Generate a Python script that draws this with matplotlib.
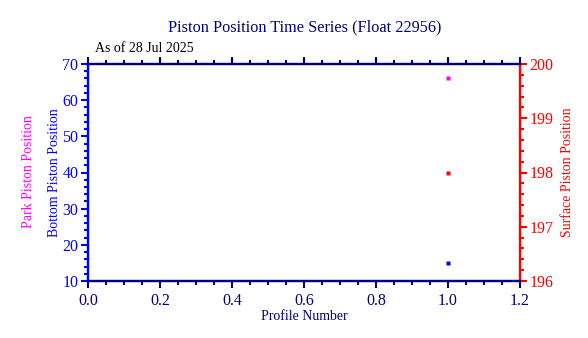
import matplotlib.pyplot as plt
from matplotlib.ticker import MultipleLocator

plt.rcParams['font.family'] = ['Liberation Serif', 'DejaVu Serif']

profile = [1.0]
park_pos = [66]
bottom_pos = [15]
surface_pos = [198]

navy = '#000080'
W, H = 588, 338
fig = plt.figure(figsize=(W / 100, H / 100), dpi=100)
ax = fig.add_axes([88 / W, 1 - 281 / H, (520 - 88) / W, (281 - 64) / H])
ax2 = ax.twinx()

ax.plot(profile, park_pos, 's', color='magenta', ms=2.5, mec='none')
ax.plot(profile, bottom_pos, 's', color='blue', ms=2.5, mec='none')
ax2.plot(profile, surface_pos, 's', color='red', ms=2.5, mec='none')

ax.set_xlim(0, 1.2)
ax.set_ylim(10, 70)
ax2.set_ylim(196, 200)

ax.xaxis.set_major_locator(MultipleLocator(0.2))
ax.xaxis.set_minor_locator(MultipleLocator(0.05))
ax.yaxis.set_major_locator(MultipleLocator(10))
ax.yaxis.set_minor_locator(MultipleLocator(2))
ax2.yaxis.set_major_locator(MultipleLocator(1))
ax2.yaxis.set_minor_locator(MultipleLocator(0.2))
ax.xaxis.set_major_formatter(lambda v, p: f'{v:.1f}')

for a in (ax, ax2):
    for s in a.spines.values():
        s.set_linewidth(1.6)
    a.spines['top'].set_color(navy)
    a.spines['bottom'].set_color(navy)
    a.spines['left'].set_color('blue')
    a.spines['right'].set_color('red')

ax.tick_params(axis='x', which='both', direction='out', top=True, colors=navy,
               labelsize=11.5, width=1.5)
ax.tick_params(axis='x', which='major', length=5)
ax.tick_params(axis='x', which='minor', length=3)
ax.tick_params(axis='y', which='both', direction='out', colors='blue',
               labelsize=11.5, width=1.5, pad=2)
ax.tick_params(axis='y', which='major', length=5)
ax.tick_params(axis='y', which='minor', length=3)
ax2.tick_params(axis='y', which='both', direction='out', colors='red',
                labelsize=11.5, width=1.5, pad=2)
ax2.tick_params(axis='y', which='major', length=5)
ax2.tick_params(axis='y', which='minor', length=3)

ax.set_xlabel('Profile Number', color=navy, fontsize=10, labelpad=1)
ax.set_ylabel('Bottom Piston Position', color='blue', fontsize=10, labelpad=1)
ax2.set_ylabel('Surface Piston Position', color='red', fontsize=10, labelpad=5)
fig.text(28.5 / W, 1 - 172 / H, 'Park Piston Position', color='magenta',
         fontsize=10, rotation=90, ha='center', va='center')

fig.text(305 / W, 1 - 27 / H, 'Piston Position Time Series (Float 22956)',
         color=navy, fontsize=11.7, ha='center', va='center')
fig.text(95 / W, 1 - 48 / H, 'As of 28 Jul 2025', color='black',
         fontsize=10, ha='left', va='center')

fig.savefig('out.png', dpi=100)
